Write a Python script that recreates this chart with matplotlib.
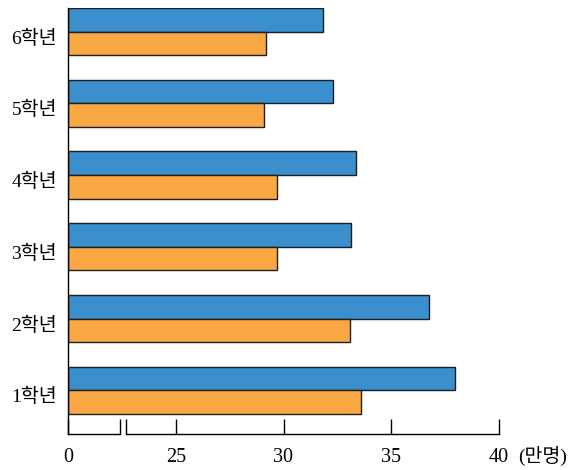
import matplotlib.pyplot as plt
import matplotlib.transforms as mtransforms
import numpy as np

# 학년별 학생 수 (만명)
grades = ["1학년", "2학년", "3학년", "4학년", "5학년", "6학년"]
blue_vals = [37.95, 36.75, 33.15, 33.35, 32.3, 31.85]
orange_vals = [33.6, 33.1, 29.7, 29.7, 29.1, 29.2]

xticks = [20, 25, 30, 35, 40]
xticklabels = ["0", "25", "30", "35", "40"]
axis_start = 20   # 눈금 '0' 위치 (축 생략)

plt.rcParams['font.family'] = ['Liberation Serif', 'Noto Sans CJK KR']

fig = plt.figure(figsize=(5.79, 4.70), dpi=100)
ax = fig.add_axes([68/579, 1-434/470, (499-68)/579, 426/470])

y = np.arange(len(grades))
h = 0.33
bl = np.array(blue_vals) - axis_start
ol = np.array(orange_vals) - axis_start
ax.barh(y + h/2, bl, height=h, left=axis_start, color="#3a8fcc",
        edgecolor="#1e1e1e", linewidth=1.0)
ax.barh(y - h/2, ol, height=h, left=axis_start, color="#f9a843",
        edgecolor="#1e1e1e", linewidth=1.0)

ax.set_xlim(20, 40)
ax.set_ylim(-0.61, 5.33)

ax.spines['top'].set_visible(False)
ax.spines['right'].set_visible(False)
ax.spines['bottom'].set_visible(False)
ax.spines['left'].set_linewidth(1.0)

# 생략 표시가 있는 x축
brk = [22.42, 22.70]
tr = ax.get_xaxis_transform()
ax.plot([20, brk[0]], [0, 0], color="black", lw=1.0, transform=tr, clip_on=False)
ax.plot([brk[1], 40], [0, 0], color="black", lw=1.0, transform=tr, clip_on=False)

ax.set_xticks(xticks)
ax.set_xticklabels(xticklabels)
ax.set_xticks(brk, minor=True)
ax.tick_params(axis='x', which='both', direction='in', length=11, width=1.0,
               labelsize=14.5, pad=10)

ax.set_yticks(y)
ax.set_yticklabels(grades)
ax.tick_params(axis='y', length=0, labelsize=14, pad=8)
shift = mtransforms.ScaledTranslation(0, -5/100, fig.dpi_scale_trans)
for lab in ax.get_yticklabels():
    lab.set_transform(lab.get_transform() + shift)

ax.annotate("(만명)", xy=(1, 0), xycoords='axes fraction',
            xytext=(19, -22), textcoords='offset pixels',
            ha='left', va='center', fontsize=14)

fig.savefig("out.png", dpi=100)
